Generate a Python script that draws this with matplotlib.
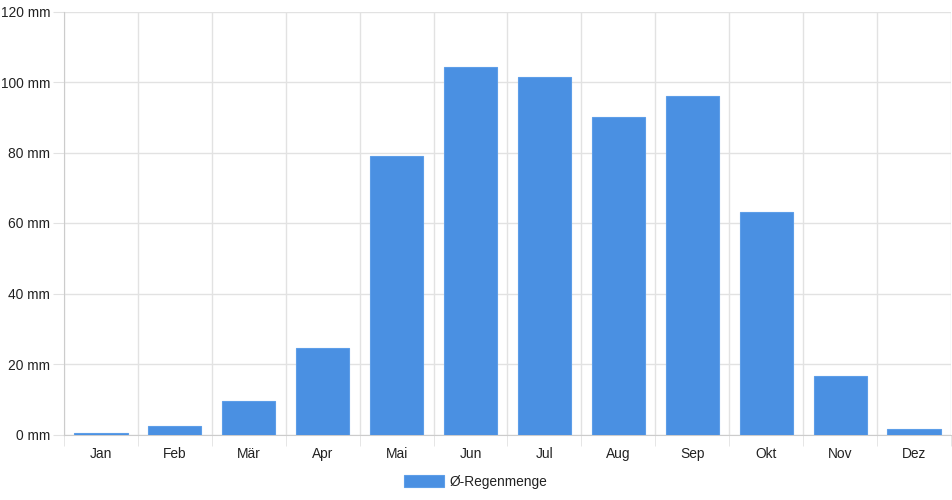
import numpy as np
import matplotlib.pyplot as plt
from matplotlib.ticker import MultipleLocator, FixedLocator

months = ['Jan', 'Feb', 'Mär', 'Apr', 'Mai', 'Jun', 'Jul', 'Aug', 'Sep', 'Okt', 'Nov', 'Dez']
rain = [0.5, 2.4, 9.6, 24.6, 79.1, 104.3, 101.4, 90.2, 96.0, 63.2, 16.6, 1.6]
label = 'Ø-Regenmenge'

plt.rcParams['font.family'] = ['Liberation Sans', 'DejaVu Sans']
grid_col = '#e2e2e2'
bar_col = '#4a90e2'
fs = 9.9

fig = plt.figure(figsize=(9.52, 5.0), dpi=100)
ax = fig.add_axes([64/952, 65.5/500, 1 - 64/952 - 1/952, (434.5-11.5)/500])

x = np.arange(len(months))
ax.bar(x, rain, width=0.72, color=bar_col, edgecolor='#5d9ee8', linewidth=0.8,
       label=label, zorder=3)

ax.set_xlim(-0.5, 11.5)
ax.set_ylim(0, 120)
ax.yaxis.set_major_locator(MultipleLocator(20))
ax.set_yticklabels([f'{int(v)} mm' for v in ax.get_yticks()])
ax.set_xticks(x)
ax.set_xticklabels(months)
ax.xaxis.set_minor_locator(FixedLocator(np.arange(-0.5, 12, 1)))

ax.grid(axis='y', color=grid_col, linewidth=1, zorder=0)
ax.grid(axis='x', which='minor', color=grid_col, linewidth=1, zorder=0)
ax.tick_params(axis='x', which='major', length=0, pad=9, labelsize=fs, colors='#222222')
ax.tick_params(axis='x', which='minor', length=8, color=grid_col)
ax.tick_params(axis='y', length=8, color=grid_col, pad=2, labelsize=fs, colors='#222222')

for s in ['top', 'right']:
    ax.spines[s].set_visible(False)
ax.spines['left'].set_color('#cccccc')
ax.spines['bottom'].set_color('#cccccc')

fig.legend(loc='center', bbox_to_anchor=(0.5, 18/500), frameon=False, fontsize=fs,
           handlelength=2.85, handleheight=1.0, handletextpad=0.45, labelcolor='#222222')

fig.savefig('out.png', dpi=100)
